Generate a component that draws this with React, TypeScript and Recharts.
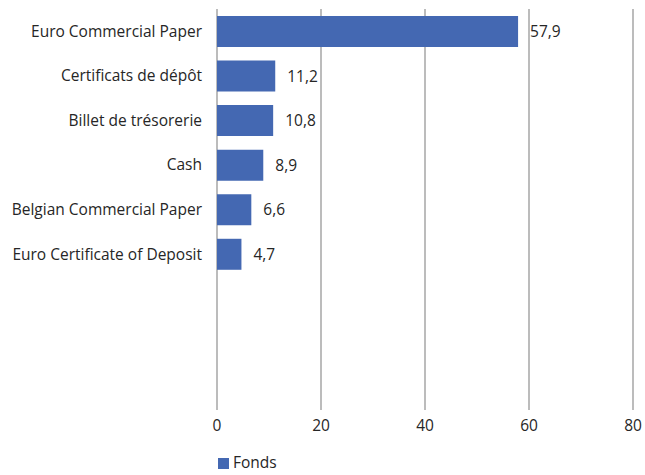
import React from 'react';
import { BarChart, Bar, XAxis, YAxis, CartesianGrid, Legend, LabelList } from 'recharts';

const categories = [
  'Euro Commercial Paper',
  'Certificats de dépôt',
  'Billet de trésorerie',
  'Cash',
  'Belgian Commercial Paper',
  'Euro Certificate of Deposit',
  '',
  '',
  '',
];
const fondsValues: (number | null)[] = [57.9, 11.2, 10.8, 8.9, 6.6, 4.7, null, null, null];
const xTicks = [0, 20, 40, 60, 80];
const seriesName = 'Fonds';

const data = categories.map((c, i) => ({ cat: c, fonds: fondsValues[i] }));

const FONT = '"Open Sans", "Noto Sans", sans-serif';
const FS = 15.5;
const TEXT = '#262626';
const BAR = '#4468B2';

export default function App() {
  return (
    <div style={{ position: 'absolute', left: 0, top: 0 }}>
      <BarChart
        width={645}
        height={475}
        data={data}
        layout="vertical"
        margin={{ top: 9, right: 12, left: 0, bottom: 13 }}
        barCategoryGap={7}
      >
        <CartesianGrid horizontal={false} stroke="#a6a6a6" strokeWidth={1.5} />
        <XAxis
          type="number"
          domain={[0, 80]}
          ticks={xTicks}
          axisLine={false}
          tickLine={false}
          tickSize={0}
          tickMargin={10}
          height={30}
          tick={{ fill: TEXT, fontSize: FS, fontFamily: FONT }}
        />
        <YAxis
          type="category"
          dataKey="cat"
          width={217}
          axisLine={false}
          tickLine={false}
          tickSize={0}
          tickMargin={15}
          interval={0}
          tick={{ fill: TEXT, fontSize: FS, fontFamily: FONT }}
        />
        <Legend
          verticalAlign="bottom"
          align="left"
          iconType="square"
          iconSize={11}
          wrapperStyle={{ left: 218, bottom: 2, fontFamily: FONT, fontSize: FS, color: TEXT }}
          formatter={(v) => <span style={{ color: TEXT }}>{v}</span>}
        />
        <Bar dataKey="fonds" name={seriesName} fill={BAR} isAnimationActive={false}>
          <LabelList
            dataKey="fonds"
            position="right"
            offset={12}
            formatter={(v: any) => (v == null ? '' : String(v).replace('.', ','))}
            style={{ fill: TEXT, fontSize: FS, fontFamily: FONT }}
          />
        </Bar>
      </BarChart>
    </div>
  );
}
